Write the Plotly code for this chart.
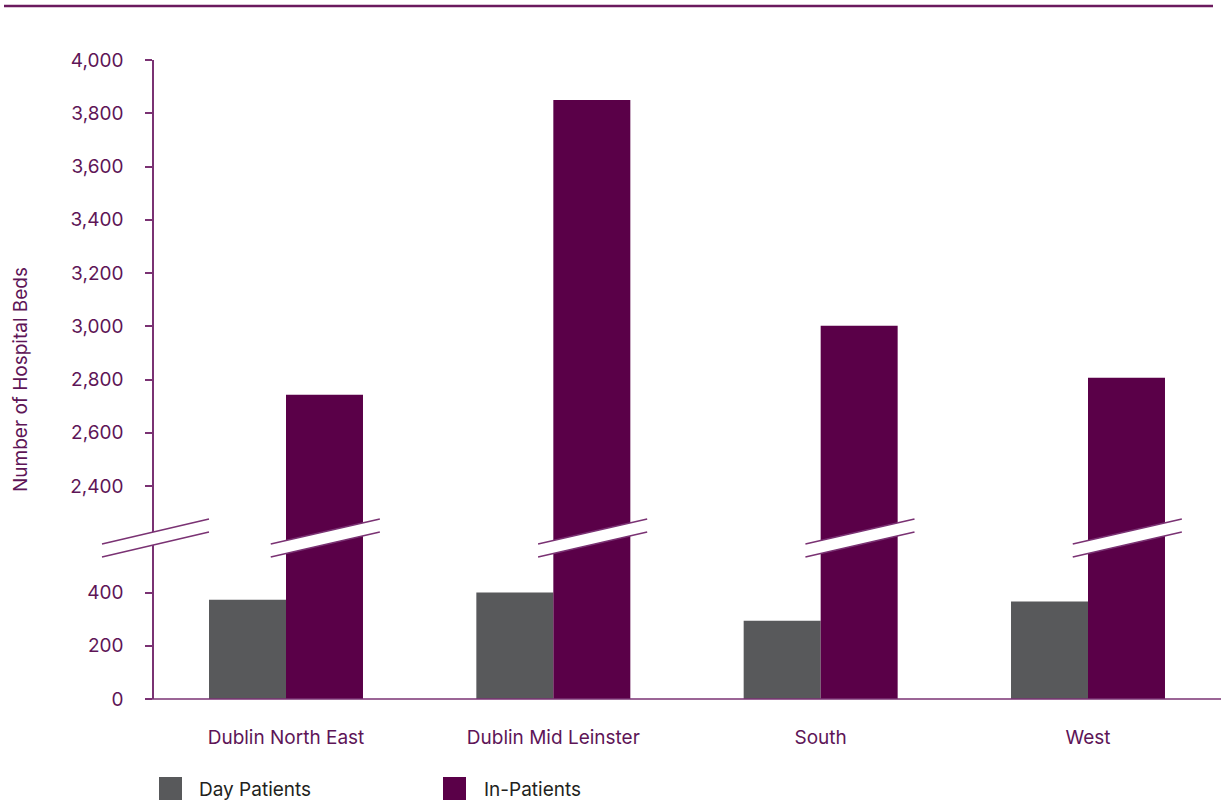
import plotly.graph_objects as go

# ---- data ----
regions = ["Dublin North East", "Dublin Mid Leinster", "South", "West"]
day_patients = [373, 400, 294, 366]
in_patients = [2743, 3850, 3002, 2807]
series_names = ["Day Patients", "In-Patients"]
tick_values_real = [0, 200, 400, 2400, 2600, 2800, 3000, 3200, 3400, 3600, 3800, 4000]

# broken axis: values above the break are shifted down by this amount
BREAK_LOW = 400
BREAK_OFFSET = 1600

def to_axis(v):
    return v - BREAK_OFFSET if v > BREAK_LOW + 200 else v

PURPLE = "#5a0048"
GREY = "#58595b"
TEXT_PURPLE = "#5e1557"
AXIS_PURPLE = "#7a3273"
FONT = "Inter, Lato, 'Open Sans', sans-serif"

x_idx = list(range(len(regions)))

fig = go.Figure()
fig.add_trace(go.Bar(
    x=x_idx, y=day_patients, name=series_names[0], marker_color=GREY,
    marker_line_width=0, showlegend=False,
    customdata=day_patients, hovertemplate="%{customdata:,}<extra>" + series_names[0] + "</extra>",
))
fig.add_trace(go.Bar(
    x=x_idx, y=[to_axis(v) for v in in_patients], name=series_names[1], marker_color=PURPLE,
    marker_line_width=0, showlegend=False,
    customdata=in_patients, hovertemplate="%{customdata:,}<extra>" + series_names[1] + "</extra>",
))

W, H = 1223, 806
L, R, T, B = 154, 2, 60, 107
pw = W - L - R
ph = H - T - B

def px_x(p):
    return (p - L) / pw

def px_y(p):
    return (H - B - p) / ph

shapes = []
# top rule
shapes.append(dict(type="line", xref="paper", yref="paper", x0=px_x(4), x1=px_x(1213),
                   y0=px_y(6), y1=px_y(6), line=dict(color="#6b1a5e", width=2.5), layer="above"))
# baseline
shapes.append(dict(type="line", xref="paper", yref="paper", x0=px_x(145), x1=1,
                   y0=0, y1=0, line=dict(color=AXIS_PURPLE, width=1.5), layer="above"))

def break_mark(xref, yref, xa, xb, ylo_l, yhi_l, ylo_r, yhi_r):
    out = []
    out.append(dict(type="path", xref=xref, yref=yref,
                    path=f"M {xa},{ylo_l} L {xb},{ylo_r} L {xb},{yhi_r} L {xa},{yhi_l} Z",
                    fillcolor="white", line=dict(width=0), layer="above"))
    out.append(dict(type="line", xref=xref, yref=yref, x0=xa, x1=xb, y0=ylo_l, y1=ylo_r,
                    line=dict(color=AXIS_PURPLE, width=1.5), layer="above"))
    out.append(dict(type="line", xref=xref, yref=yref, x0=xa, x1=xb, y0=yhi_l, y1=yhi_r,
                    line=dict(color=AXIS_PURPLE, width=1.5), layer="above"))
    return out

# axis break (in axis units converted to paper)
YMAX = 4000 - BREAK_OFFSET
yl_lo, yl_hi, yr_lo, yr_hi = 533, 582, 627, 676
shapes += break_mark("paper", "paper", px_x(102), px_x(209),
                     yl_lo / YMAX, yl_hi / YMAX, yr_lo / YMAX, yr_hi / YMAX)
# bar breaks on the in-patient bars
bar_w = 0.288
for i in x_idx:
    c = i + bar_w / 2 + 0.003
    shapes += break_mark("x", "y", c - 0.204, c + 0.204, yl_lo, yl_hi, yr_lo, yr_hi)

# legend (drawn to match the large square keys)
legend_colors = [GREY, PURPLE]
legend_sq_x = [159, 443]
legend_txt_x = [197, 482]
annotations = []
for name, col, sx, tx in zip(series_names, legend_colors, legend_sq_x, legend_txt_x):
    shapes.append(dict(type="rect", xref="paper", yref="paper", x0=px_x(sx), x1=px_x(sx + 23),
                       y0=px_y(777), y1=px_y(800), fillcolor=col, line=dict(width=0)))
    annotations.append(dict(xref="paper", yref="paper", x=px_x(tx), y=px_y(789), text=name,
                            showarrow=False, xanchor="left", yanchor="middle",
                            font=dict(family=FONT, size=19, color="#231f20")))

fig.update_layout(
    width=W, height=H,
    margin=dict(l=L, r=R, t=T, b=B, autoexpand=False),
    paper_bgcolor="white", plot_bgcolor="white",
    barmode="group", bargap=1 - 2 * bar_w, bargroupgap=0,
    font=dict(family=FONT, color=TEXT_PURPLE, size=19),
    shapes=shapes, annotations=annotations,
    showlegend=False,
)
fig.update_xaxes(
    tickmode="array", tickvals=x_idx, ticktext=regions,
    range=[(154 - 286) / 267.33, 3 + (1221 - 1088) / 267.33],
    showgrid=False, zeroline=False, showline=False, ticks="", ticklabelstandoff=25,
    tickfont=dict(size=19, color=TEXT_PURPLE), fixedrange=True,
)
fig.update_yaxes(
    range=[0, YMAX],
    tickmode="array", tickvals=[to_axis(v) for v in tick_values_real],
    ticktext=[f"{v:,}" for v in tick_values_real],
    showgrid=False, zeroline=False, showline=True, linecolor=AXIS_PURPLE, linewidth=1.5,
    ticks="outside", ticklen=7, tickcolor=AXIS_PURPLE, tickwidth=1.5, ticklabelstandoff=18,
    tickfont=dict(size=19, color=TEXT_PURPLE),
    title=dict(text="Number of Hospital Beds", font=dict(size=19, color=TEXT_PURPLE), standoff=37),
    fixedrange=True,
)

fig.write_html("out.html", config={"displayModeBar": False},
               post_script="document.body.style.margin='0';document.body.style.overflow='hidden';")
